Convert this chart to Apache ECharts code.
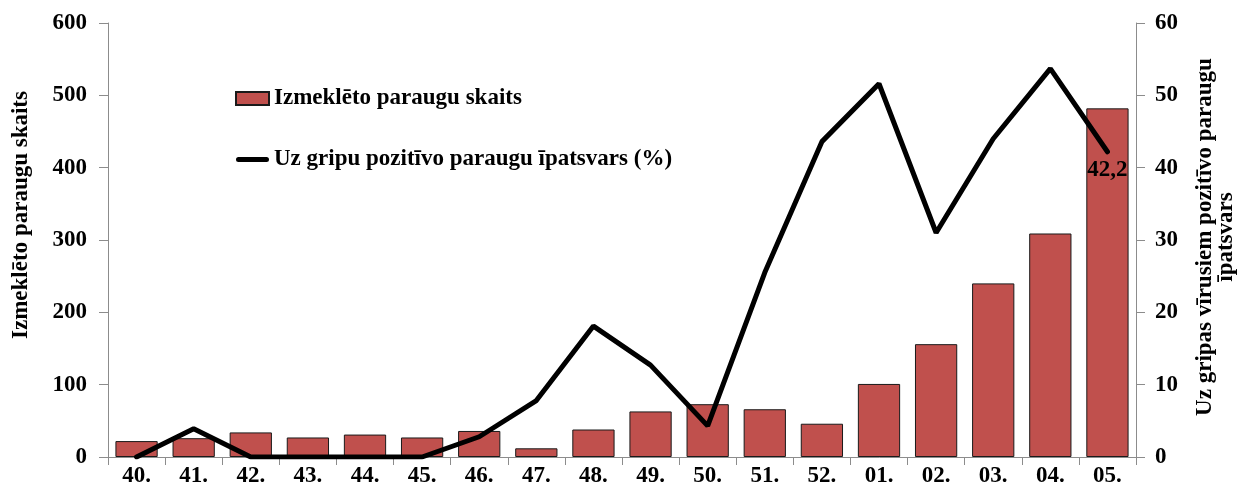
<!DOCTYPE html>
<html>
<head>
<meta charset="utf-8">
<script src="https://cdn.jsdelivr.net/npm/echarts@6/dist/echarts.min.js"></script>
<style>
  html, body { margin: 0; padding: 0; background: #fff; }
  #chart { width: 1240px; height: 492px; }
</style>
</head>
<body>
<div id="chart"></div>
<script>
const weeks = ['40.', '41.', '42.', '43.', '44.', '45.', '46.', '47.', '48.', '49.', '50.', '51.', '52.', '01.', '02.', '03.', '04.', '05.']
const samples = [22, 26, 34, 27, 31, 27, 36, 12, 38, 63, 73, 66, 46, 101, 156, 240, 309, 482]
const positiveShare = [0, 3.9, 0, 0, 0, 0, 2.8, 7.8, 18.1, 12.7, 4.3, 25.5, 43.6, 51.6, 31, 44, 53.7, 42.2]

const font = '"Liberation Serif", "Times New Roman", serif'
const axisColor = '#8c8c8c'
const lastIdx = positiveShare.length - 1

// thick short line for the legend, padded to the full icon height
const lineIcon = 'path://M0,0 L0.01,0 L0,0.01 Z M0,13 L0.01,13 L0,12.99 Z M2.5,4 L30.5,4 A2.5,2.5 0 0 1 30.5,9 L2.5,9 A2.5,2.5 0 0 1 2.5,4 Z'

const chart = echarts.init(document.getElementById('chart'))

chart.setOption({
  animation: false,
  textStyle: { fontFamily: font },
  grid: { left: 108, right: 104, top: 23, bottom: 35, outerBoundsMode: 'none' },
  legend: {
    orient: 'vertical',
    left: 235,
    top: 87,
    padding: 0,
    itemGap: 38,
    itemWidth: 33,
    itemHeight: 13,
    textStyle: { fontFamily: font, fontSize: 23, fontWeight: 'bold', color: '#000' },
    data: [
      { name: 'Izmeklēto paraugu skaits', icon: 'rect' },
      { name: 'Uz gripu pozitīvo paraugu īpatsvars (%)', icon: lineIcon, itemStyle: { color: '#000', borderWidth: 0 } }
    ]
  },
  xAxis: {
    type: 'category',
    data: weeks,
    axisLine: { lineStyle: { color: axisColor } },
    axisTick: { show: true, alignWithLabel: false, length: 8, lineStyle: { color: axisColor } },
    axisLabel: { color: '#000', fontFamily: font, fontSize: 23, fontWeight: 'bold', margin: 8 }
  },
  yAxis: [
    {
      type: 'value',
      min: 0,
      max: 600,
      interval: 100,
      name: 'Izmeklēto paraugu skaits',
      nameLocation: 'middle',
      nameGap: 75,
      nameTextStyle: { color: '#000', fontFamily: font, fontSize: 23, fontWeight: 'bold', padding: [0, 0, 0, 50] },
      axisLine: { show: true, lineStyle: { color: axisColor } },
      axisTick: { show: true, length: 9, lineStyle: { color: axisColor } },
      splitLine: { show: false },
      axisLabel: { color: '#000', fontFamily: font, fontSize: 23, fontWeight: 'bold', margin: 21 }
    },
    {
      type: 'value',
      min: 0,
      max: 60,
      interval: 10,
      name: 'Uz gripas vīrusiem pozitīvo paraugu\nīpatsvars',
      nameLocation: 'middle',
      nameGap: 59,
      nameRotate: 90,
      nameTextStyle: { color: '#000', fontFamily: font, fontSize: 23, fontWeight: 'bold', lineHeight: 21, padding: [0, 0, 0, 6] },
      axisLine: { show: true, lineStyle: { color: axisColor } },
      axisTick: { show: true, length: 9, lineStyle: { color: axisColor } },
      splitLine: { show: false },
      axisLabel: { color: '#000', fontFamily: font, fontSize: 23, fontWeight: 'bold', margin: 19 }
    }
  ],
  series: [
    {
      name: 'Izmeklēto paraugu skaits',
      type: 'bar',
      data: samples,
      barCategoryGap: '26%',
      itemStyle: { color: '#c0504d', borderColor: '#1a1a1a', borderWidth: 1 }
    },
    {
      name: 'Uz gripu pozitīvo paraugu īpatsvars (%)',
      type: 'line',
      yAxisIndex: 1,
      symbol: 'none',
      lineStyle: { color: '#000', width: 5, cap: 'round' },
      itemStyle: { color: '#000' },
      data: positiveShare.map((v, i) => {
        if (i !== lastIdx) return v
        return {
          value: v,
          symbol: 'circle',
          symbolSize: 1,
          label: {
            show: true,
            position: 'bottom',
            distance: 6,
            color: '#000',
            fontFamily: font,
            fontSize: 23,
            fontWeight: 'bold',
            formatter: p => String(p.value).replace('.', ',')
          }
        }
      })
    }
  ]
})
</script>
</body>
</html>
